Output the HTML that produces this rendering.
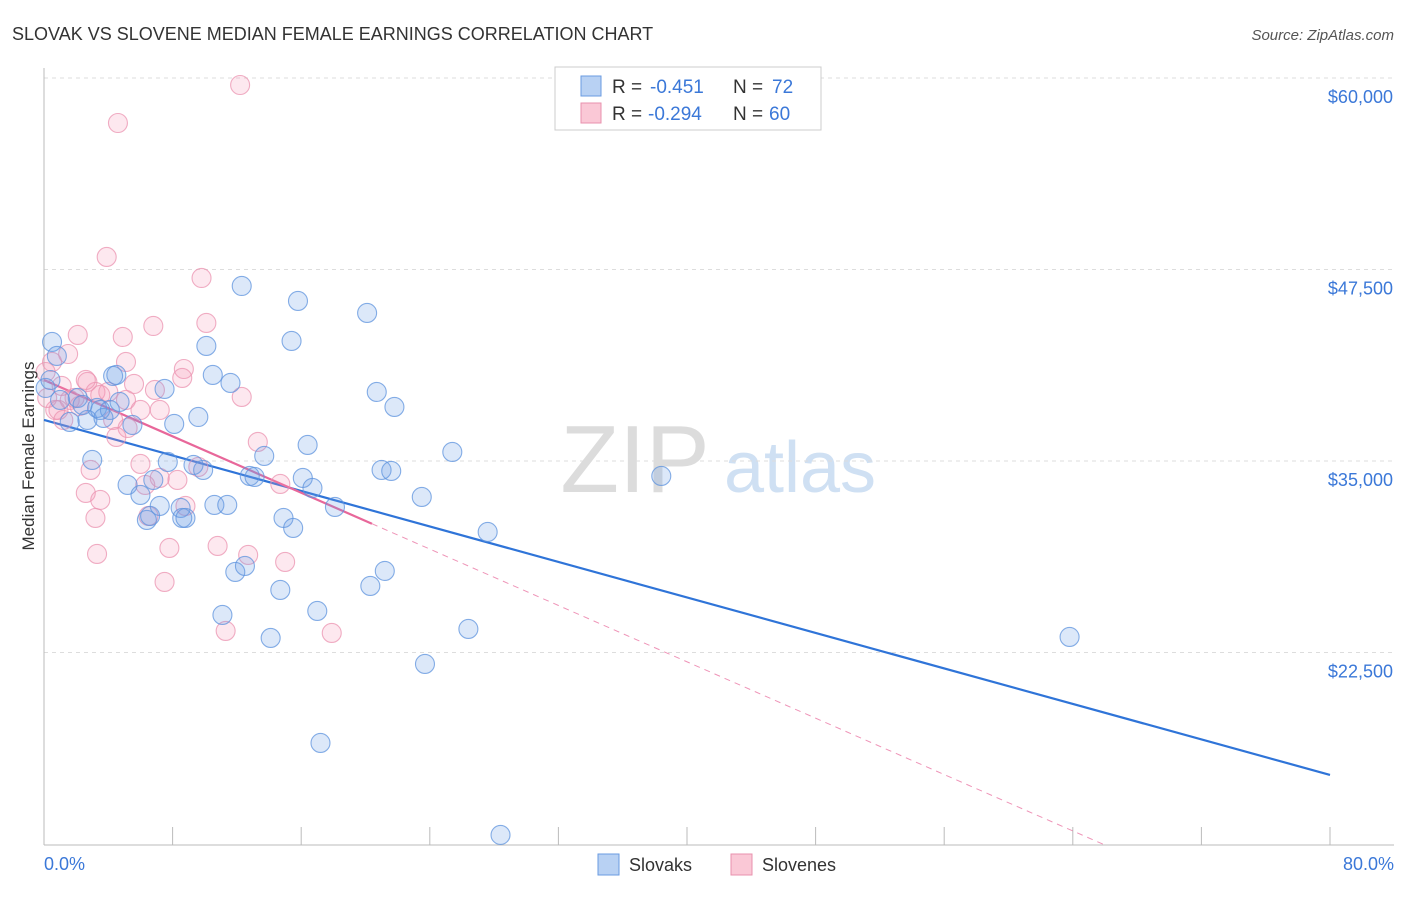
<!DOCTYPE html>
<html><head><meta charset="utf-8"><style>
body{margin:0;background:#fff;font-family:"Liberation Sans",sans-serif;}
svg text{font-family:"Liberation Sans",sans-serif;}
</style></head><body>
<svg id="chart" width="1406" height="892">
<text x="12" y="40" font-size="18" fill="#333">SLOVAK VS SLOVENE MEDIAN FEMALE EARNINGS CORRELATION CHART</text>
<text x="1394" y="40" font-size="15" fill="#555" font-style="italic" text-anchor="end">Source: ZipAtlas.com</text>
<g>
<text x="635" y="492" font-size="96" font-family="Liberation Serif" fill="#dcdcdc" text-anchor="middle">ZIP</text>
<text x="800" y="492" font-size="72" fill="#cfe0f3" text-anchor="middle">atlas</text>
</g>
<g id="grid"></g><g id="axes"></g><g id="lines"></g><g id="pts"></g>
<text transform="translate(34,456) rotate(-90)" font-size="17" fill="#333" text-anchor="middle">Median Female Earnings</text>
<text x="44" y="870" font-size="18" fill="#3b78d8">0.0%</text>
<text x="1394" y="870" font-size="18" fill="#3b78d8" text-anchor="end">80.0%</text>
<g>
<rect x="555" y="67" width="266" height="63" fill="#fff" stroke="#ccc"/>
<rect x="581" y="76" width="20" height="20" fill="#b8d1f3" stroke="#6a9be0"/>
<rect x="581" y="103" width="20" height="20" fill="#fac8d6" stroke="#e891ad"/>
<text x="612" y="93" font-size="19" fill="#333">R =</text>
<text x="650" y="93" font-size="19" fill="#3b78d8">-0.451</text>
<text x="733" y="93" font-size="19" fill="#333">N =</text>
<text x="772" y="93" font-size="19" fill="#3b78d8">72</text>
<text x="612" y="120" font-size="19" fill="#333">R =</text>
<text x="648" y="120" font-size="19" fill="#3b78d8">-0.294</text>
<text x="733" y="120" font-size="19" fill="#333">N =</text>
<text x="769" y="120" font-size="19" fill="#3b78d8">60</text>
</g>
<g>
<rect x="598" y="854" width="21" height="21" fill="#b8d1f3" stroke="#6a9be0"/>
<text x="629" y="871" font-size="18" fill="#333">Slovaks</text>
<rect x="731" y="854" width="21" height="21" fill="#fac8d6" stroke="#e891ad"/>
<text x="762" y="871" font-size="18" fill="#333">Slovenes</text>
</g>
</svg>
<script>
const yTicks=[22500,35000,47500,60000];
const yTickLabels=["$22,500","$35,000","$47,500","$60,000"];
const xTicks=[0,8,16,24,32,40,48,56,64,72,80];
const slovakX=[0.5,0.8,1.6,3.0,2.7,3.3,3.7,4.1,4.3,4.5,4.7,5.2,5.5,6.0,6.4,6.6,6.8,7.2,7.5,7.7,8.1,8.5,8.6,8.8,9.3,9.6,9.9,10.1,10.5,10.6,11.1,11.4,11.6,11.9,12.3,12.5,12.8,13.1,13.7,14.1,14.7,14.9,15.4,15.5,15.8,16.4,16.1,16.7,17.0,17.2,18.1,20.1,20.3,20.7,21.0,21.2,21.6,21.8,23.5,23.7,25.4,26.4,27.6,28.4,38.4,63.8,0.1,1.0,2.1,2.4,3.5,0.4];
const slovakY=[42769,41855,37547,35067,37678,38461,37808,38330,40550,40615,38853,33435,37351,32782,31151,31412,33762,32064,39701,34936,37417,31934,31281,31281,34741,37873,34414,42508,40615,32130,24950,32130,40093,27757,46424,28148,34023,33958,35328,23449,26582,31281,42834,30629,45445,36046,33892,33239,25211,16595,31999,44662,26843,39505,34414,27822,34349,38526,32652,21752,35589,24036,30367,10591,34023,23514,39766,38983,39114,38657,38330,40288];
const sloveneX=[12.2,4.6,3.9,9.8,6.8,10.1,2.1,4.9,1.5,0.5,5.1,8.7,8.6,5.6,1.1,2.7,3.2,4.0,6.9,12.3,1.6,2.2,5.1,6.0,7.2,4.3,5.2,4.5,13.3,6.0,9.6,2.9,7.2,6.3,8.3,14.7,2.6,3.5,8.8,6.5,3.2,10.8,12.7,3.3,7.8,15.0,7.5,11.3,17.9,0.7,3.5,0.2,0.9,1.9,2.6,0.1,1.2];
const sloveneY=[59543,57063,48317,46946,43813,44009,43226,43095,41985,41463,41463,41006,40419,40027,39897,40158,39505,39505,39636,39179,38983,38591,38983,38330,38330,37678,37155,36568,36242,34806,34610,34414,33892,33435,33762,33500,32913,32456,32064,31412,31281,29454,28866,28931,29323,28409,27104,23906,23775,38330,39309,39114,38330,39114,40289,40810,37678];
const trendIntercept=[37678,40288];
const trendSlope=[-289.6,-459.9];
const trendSolidEnd=[80,20.4];
const trendDashEnd=[80,66];
const NS="http://www.w3.org/2000/svg";
const X0=44,X1=1330,Y60=78,PX=191.5/12500,YB=845;
const xs=v=>X0+(v/80)*(X1-X0);
const ys=v=>Y60+(60000-v)*PX;
function mk(t,a,p){const e=document.createElementNS(NS,t);for(const k in a)e.setAttribute(k,a[k]);p.appendChild(e);return e;}
const grid=document.getElementById('grid'),axes=document.getElementById('axes'),lines=document.getElementById('lines'),pts=document.getElementById('pts');
yTicks.forEach((v,i)=>{
 const l=mk('line',{x1:X0,x2:1394,y1:ys(v),y2:ys(v),stroke:'#ddd','stroke-dasharray':'4,4'},grid);
 
 
 const t=mk('text',{x:1393,y:ys(v)+25,'font-size':18,fill:'#3b78d8','text-anchor':'end'},grid);
 t.textContent=yTickLabels[i];
 
 
});
const ax=mk('line',{x1:X0,x2:1394,y1:YB,y2:YB,stroke:'#bbb'},axes);


const ay=mk('line',{x1:X0,x2:X0,y1:68,y2:YB,stroke:'#bbb'},axes);


xTicks.forEach(v=>{
 const t=mk('line',{x1:xs(v),x2:xs(v),y1:YB,y2:YB-18,stroke:'#bbb'},axes);
 
 
});
function drawPts(X,Y,fill,stroke,name){X.forEach((x,i)=>{
 const c=mk('circle',{cx:xs(x),cy:ys(Y[i]),r:9.5,fill:fill,stroke:stroke,'stroke-width':1.1,'stroke-opacity':0.75},pts);
 
 
});}
drawPts(sloveneX,sloveneY,'rgba(244,150,180,0.22)','#eb93b0','slovene-point');
drawPts(slovakX,slovakY,'rgba(110,160,230,0.24)','#5d93dd','slovak-point');
const cols=['#2f74d8','#e8679a'],names=['slovak-trendline','slovene-trendline'];
[0,1].forEach(i=>{
 const f=x=>trendIntercept[i]+trendSlope[i]*x;
 if(trendDashEnd[i]>trendSolidEnd[i]){
  const d=mk('line',{x1:xs(trendSolidEnd[i]),y1:ys(f(trendSolidEnd[i])),x2:xs(trendDashEnd[i]),y2:ys(f(trendDashEnd[i])),stroke:cols[i],'stroke-width':1,'stroke-dasharray':'6,5',opacity:0.7},lines);
  
  
 }
 const l=mk('line',{x1:xs(0),y1:ys(f(0)),x2:xs(trendSolidEnd[i]),y2:ys(f(trendSolidEnd[i])),stroke:cols[i],'stroke-width':2.2},lines);
 
 
});
</script>
</body></html>
